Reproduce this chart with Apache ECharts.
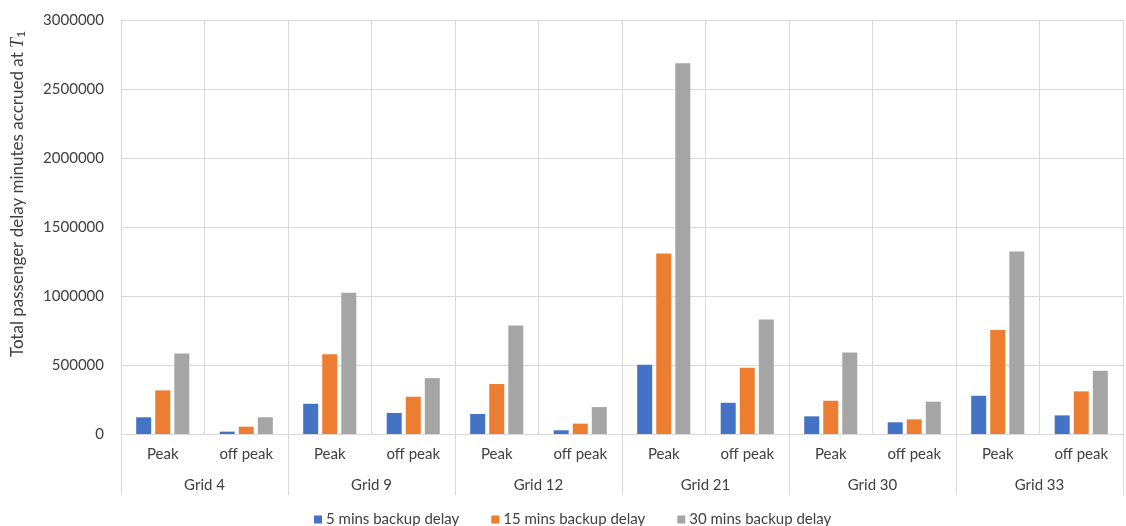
<!DOCTYPE html>
<html>
<head>
<meta charset="utf-8">
<script src="https://cdn.jsdelivr.net/npm/echarts@6/dist/echarts.min.js"></script>
<style>
  html, body { margin: 0; padding: 0; background: #ffffff; }
  #chart { width: 1126px; height: 526px; }
</style>
</head>
<body>
<div id="chart"></div>
<script>
// Grid groups and the two periods shown under each of them
const grids = ['Grid 4', 'Grid 9', 'Grid 12', 'Grid 21', 'Grid 30', 'Grid 33'];
const periods = ['Peak', 'off peak'];

// Series names (backup delay scenarios)
const seriesNames = ['5 mins backup delay', '15 mins backup delay', '30 mins backup delay'];

// Total passenger delay minutes, ordered Grid 4 Peak, Grid 4 off peak, Grid 9 Peak, ...
const delay5 = [121000, 17000, 219000, 152000, 145000, 27000, 502000, 226000, 128000, 85000, 277000, 135000];
const delay15 = [316000, 53000, 577000, 270000, 362000, 75000, 1308000, 480000, 241000, 106000, 753000, 309000];
const delay30 = [584000, 121000, 1024000, 405000, 786000, 195000, 2687000, 830000, 591000, 234000, 1322000, 458000];

// Value axis range
const yMin = 0;
const yMax = 3000000;
const yStep = 500000;

const colors = ['#4472C4', '#ED7D31', '#A5A5A5'];
const gridLineColor = '#d9d9d9';
const textColor = '#404040';
const fontFamily = 'Lato, "Open Sans", sans-serif';

// Inner category labels: one per period inside every grid group
const periodCategories = [];
grids.forEach(() => periods.forEach(p => periodCategories.push(p)));

const chart = echarts.init(document.getElementById('chart'), null, { renderer: 'canvas' });

const option = {
  animation: false,
  backgroundColor: '#ffffff',
  textStyle: { fontFamily: fontFamily },
  color: colors,
  grid: { left: 121, right: 3, top: 20, bottom: 92, containLabel: false },
  legend: {
    data: seriesNames,
    left: 309,
    top: 507,
    icon: 'rect',
    itemWidth: 8,
    itemHeight: 8,
    itemGap: 32,
    textStyle: { fontSize: 15, color: textColor, fontFamily: fontFamily, padding: [0, 0, 0, -1] }
  },
  xAxis: [
    {
      type: 'category',
      data: periodCategories,
      position: 'bottom',
      axisLine: { show: true, lineStyle: { color: gridLineColor, width: 1 } },
      axisTick: { show: false },
      axisLabel: { interval: 0, margin: 13, fontSize: 15, color: textColor, fontFamily: fontFamily },
      splitLine: { show: true, interval: 0, lineStyle: { color: gridLineColor, width: 1 } }
    },
    {
      type: 'category',
      data: grids,
      position: 'bottom',
      axisLine: { show: false },
      axisTick: { show: true, length: 61, interval: 0, lineStyle: { color: gridLineColor, width: 1 } },
      axisLabel: { interval: 0, margin: 44, fontSize: 15, color: textColor, fontFamily: fontFamily },
      splitLine: { show: false }
    }
  ],
  yAxis: {
    type: 'value',
    min: yMin,
    max: yMax,
    interval: yStep,
    axisLine: { show: false },
    axisTick: { show: false },
    axisLabel: {
      margin: 17,
      fontSize: 15,
      color: textColor,
      fontFamily: fontFamily,
      formatter: v => String(v)
    },
    splitLine: { show: true, lineStyle: { color: gridLineColor, width: 1 } }
  },
  graphic: [
    {
      type: 'text',
      x: 18,
      y: 194,
      rotation: Math.PI / 2,
      style: {
        text: 'Total passenger delay minutes accrued at {t|T}{s|1}',
        align: 'center',
        verticalAlign: 'middle',
        fontSize: 17,
        fontFamily: fontFamily,
        fill: textColor,
        rich: {
          t: { fontSize: 18, fontStyle: 'italic', fontFamily: '"Liberation Serif", serif', fill: textColor },
          s: { fontSize: 12, fontFamily: fontFamily, fill: textColor, verticalAlign: 'bottom', padding: [6, 0, 0, 0] }
        }
      }
    }
  ],
  series: [
    { name: seriesNames[0], type: 'bar', xAxisIndex: 0, data: delay5, barWidth: 15, barGap: '27%' },
    { name: seriesNames[1], type: 'bar', xAxisIndex: 0, data: delay15, barWidth: 15, barGap: '27%' },
    { name: seriesNames[2], type: 'bar', xAxisIndex: 0, data: delay30, barWidth: 15, barGap: '27%' }
  ]
};

chart.setOption(option);
</script>
</body>
</html>
